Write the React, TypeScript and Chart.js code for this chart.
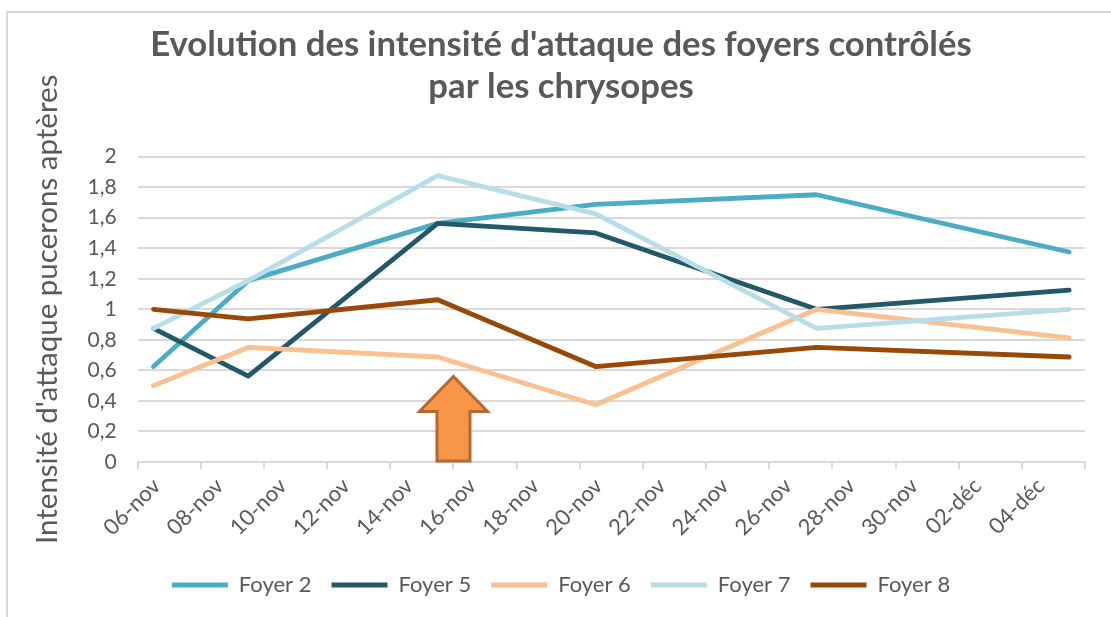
import React, { useEffect, useRef } from "react";
import { Chart, registerables } from "chart.js";

Chart.register(...registerables);

// ---- Data ----
const seriesNames = ["Foyer 2", "Foyer 5", "Foyer 6", "Foyer 7", "Foyer 8"];
const sampleDates = ["06-nov", "09-nov", "15-nov", "20-nov", "27-nov", "05-déc"];
// days elapsed since 06-nov for each sample date
const sampleDays = [0, 3, 9, 14, 21, 29];
const foyer2 = [0.625, 1.1875, 1.5625, 1.6875, 1.75, 1.375];
const foyer5 = [0.875, 0.5625, 1.5625, 1.5, 1.0, 1.125];
const foyer6 = [0.5, 0.75, 0.6875, 0.375, 1.0, 0.8125];
const foyer7 = [0.875, 1.1875, 1.875, 1.625, 0.875, 1.0];
const foyer8 = [1.0, 0.9375, 1.0625, 0.625, 0.75, 0.6875];
const seriesValues = [foyer2, foyer5, foyer6, foyer7, foyer8];
const seriesColors = ["#4BACC6", "#215968", "#FAC090", "#B7DEE8", "#984807"];

// x axis: days since 06-nov, major unit 2 days
const axisSpanDays = 30;
const xTickLabels = [
  "06-nov", "08-nov", "10-nov", "12-nov", "14-nov", "16-nov", "18-nov", "20-nov",
  "22-nov", "24-nov", "26-nov", "28-nov", "30-nov", "02-déc", "04-déc", "",
];
// annotation arrow (day since 06-nov, value of tip)
const arrowDay = 10;
const arrowTopValue = 0.56;

const titleLines = [
  "Evolution des intensité d'attaque des foyers contrôlés",
  "par les chrysopes",
];
const yAxisTitle = "Intensité d'attaque pucerons aptères";

const FONT = "Lato, 'Noto Sans', sans-serif";
const TEXT = "#595959";
const GRID = "#D9D9D9";

const framePlugin = {
  id: "frame",
  beforeDraw(chart: any) {
    const ctx = chart.ctx;
    ctx.save();
    ctx.fillStyle = "#ffffff";
    ctx.fillRect(0, 0, chart.width, chart.height);
    ctx.strokeStyle = GRID;
    ctx.lineWidth = 2;
    ctx.beginPath();
    ctx.moveTo(chart.width, 12);
    ctx.lineTo(7, 12);
    ctx.lineTo(7, chart.height);
    ctx.stroke();
    ctx.restore();
  },
};

const arrowPlugin = {
  id: "arrow",
  afterDatasetsDraw(chart: any) {
    const { ctx, scales } = chart;
    const x = scales.x.getPixelForValue(arrowDay);
    const yTip = scales.y.getPixelForValue(arrowTopValue);
    const yBase = scales.y.getPixelForValue(0);
    const headHalf = 34;
    const shaftHalf = 16.5;
    const headH = 35;
    ctx.save();
    ctx.beginPath();
    ctx.moveTo(x, yTip);
    ctx.lineTo(x + headHalf, yTip + headH);
    ctx.lineTo(x + shaftHalf, yTip + headH);
    ctx.lineTo(x + shaftHalf, yBase - 1);
    ctx.lineTo(x - shaftHalf, yBase - 1);
    ctx.lineTo(x - shaftHalf, yTip + headH);
    ctx.lineTo(x - headHalf, yTip + headH);
    ctx.closePath();
    ctx.fillStyle = "#F79646";
    ctx.fill();
    ctx.lineWidth = 3;
    ctx.lineJoin = "miter";
    ctx.strokeStyle = "#B6692F";
    ctx.stroke();
    ctx.restore();
  },
};

export default function App() {
  const ref = useRef<HTMLCanvasElement | null>(null);

  useEffect(() => {
    document.body.style.margin = "0";
    const canvas = ref.current;
    if (!canvas) return;
    const datasets = seriesNames.map((name, i) => ({
      label: name,
      data: sampleDays.map((d, j) => ({ x: d + 0.5, y: seriesValues[i][j] })),
      borderColor: seriesColors[i],
      backgroundColor: seriesColors[i],
      borderWidth: 4.8,
      pointRadius: 0,
      pointHoverRadius: 0,
      tension: 0,
      borderJoinStyle: "round" as const,
      borderCapStyle: "round" as const,
      order: seriesNames.length - i,
    }));

    const chart = new Chart(canvas, {
      type: "line",
      data: { datasets },
      plugins: [framePlugin, arrowPlugin],
      options: {
        animation: false,
        responsive: false,
        layout: { padding: { left: 37, right: 26, top: 0, bottom: 11 } },
        plugins: {
          title: {
            display: true,
            text: titleLines,
            color: TEXT,
            font: { family: FONT, size: 34.7, weight: "bold", lineHeight: 1.19 },
            padding: { top: 24.5, bottom: 49.5 },
          },
          legend: {
            position: "bottom",
            labels: {
              color: TEXT,
              font: { family: FONT, size: 22 },
              usePointStyle: true,
              pointStyle: "line",
              pointStyleWidth: 56,
              boxHeight: 22,
              padding: 20,
              sort: (a: any, b: any) => a.datasetIndex - b.datasetIndex,
            },
          },
          tooltip: { enabled: false },
        },
        scales: {
          x: {
            type: "linear",
            min: 0,
            max: axisSpanDays,
            afterFit: (scale: any) => {
              scale.height = 92;
            },
            ticks: {
              stepSize: 2,
              autoSkip: false,
              minRotation: 45,
              maxRotation: 45,
              color: TEXT,
              font: { family: FONT, size: 22 },
              labelOffset: 19,
              padding: 4,
              callback: (v: any) => xTickLabels[Math.round(Number(v) / 2)] ?? "",
            },
            grid: {
              drawOnChartArea: false,
              drawTicks: true,
              tickLength: 7,
              color: GRID,
              lineWidth: 2,
            },
            border: { display: true, color: GRID, width: 2 },
          },
          y: {
            min: 0,
            max: 2,
            afterFit: (scale: any) => {
              scale.width = 100.7;
            },
            ticks: {
              stepSize: 0.2,
              color: TEXT,
              font: { family: FONT, size: 21 },
              padding: 21,
              callback: (v: any) => String(Number(Number(v).toFixed(1))).replace(".", ","),
            },
            grid: { color: GRID, lineWidth: 2, drawTicks: false },
            border: { display: false },
            title: {
              display: true,
              text: yAxisTitle,
              color: TEXT,
              font: { family: FONT, size: 29.5, lineHeight: 1.2 },
              padding: { top: -7, bottom: 0 },
            },
          },
        },
      },
    });
    return () => chart.destroy();
  }, []);

  return (
    <div style={{ width: 1111, height: 617 }}>
      <canvas ref={ref} width={1111} height={617} />
    </div>
  );
}
